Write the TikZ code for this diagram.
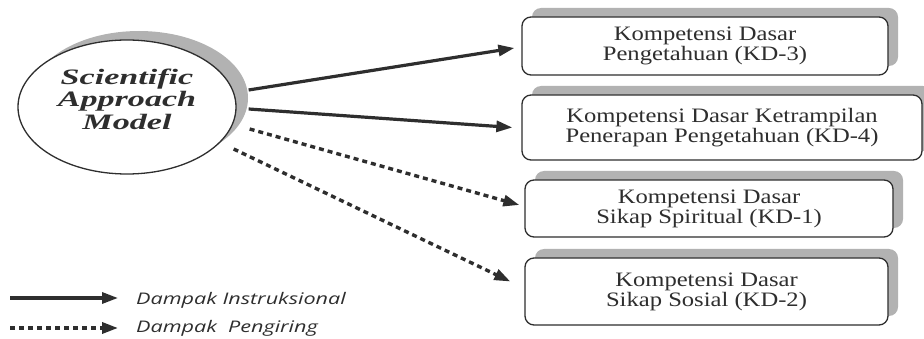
\documentclass[tikz,border=0pt]{standalone}
\usepackage{fontspec}
\setmainfont{Liberation Serif}[FakeStretch=1.2]
\newfontface\samfont{Liberation Serif Bold Italic}[FakeStretch=1.55]
\newfontface\legendfont{Open Sans Italic}[FakeStretch=1.35]
\usetikzlibrary{shapes.geometric,shadows,arrows.meta}
\definecolor{shadowgray}{gray}{0.7}
\definecolor{inkgray}{gray}{0.18}

\begin{document}
\begin{tikzpicture}[x=1pt,y=-1pt]
\tikzstyle{kd-box}=
[
	draw=inkgray, line width=1.3pt, fill=white,
	rounded corners=9pt, align=center, text=inkgray,
	font=\fontsize{20.5}{20}\selectfont,
	general shadow={fill=shadowgray, shadow xshift=10pt, shadow yshift=9pt}
]
\tikzstyle{sam-node}=
[
	ellipse, draw=inkgray, line width=1.3pt, fill=white,
	minimum width=218pt, minimum height=134pt, align=center, text=inkgray,
	font=\samfont\fontsize{22}{22.5}\selectfont,
	general shadow={fill=shadowgray, shadow xshift=12pt, shadow yshift=9pt}
]
\tikzstyle{legend}=[inner sep=0pt, anchor=base west, text=inkgray, font=\legendfont\fontsize{16}{17}\selectfont]
\tikzstyle{instr}=[line width=3.2pt, inkgray, -{Triangle[length=16pt,width=11pt]}]
\tikzstyle{iring}=[line width=3.4pt, inkgray, dash pattern=on 5pt off 4pt, -{Triangle[length=16pt,width=11pt]}]

\useasboundingbox (0,0) rectangle (924,339);

\node[sam-node] (sam) at (127,107) {Scientific\\Approach\\Model\rule[-16pt]{0pt}{1pt}};

\node[kd-box, minimum width=366pt, minimum height=58pt] (kd3) at (705,46)
	{Kompetensi Dasar\\Pengetahuan (KD-3)};
\node[kd-box, minimum width=400pt, minimum height=65pt] (kd4) at (722,127.5)
	{Kompetensi Dasar Ketrampilan\\Penerapan Pengetahuan (KD-4)};
\node[kd-box, minimum width=368pt, minimum height=57pt] (kd1) at (709,208.5)
	{Kompetensi Dasar\\Sikap Spiritual (KD-1)};
\node[kd-box, minimum width=363pt, minimum height=67pt] (kd2) at (706.5,291.5)
	{Kompetensi Dasar\\Sikap Sosial (KD-2)};

\draw[instr] ([xshift=12pt,yshift=17pt]sam.east) -- ([xshift=-7pt,yshift=-2pt]kd3.west);
\draw[instr] ([xshift=12pt,yshift=-2pt]sam.east) -- ([xshift=-9pt]kd4.west);
\draw[iring] ([xshift=13pt,yshift=-22pt]sam.east) -- ([xshift=-5pt,yshift=3.5pt]kd1.west);
\draw[iring] ([xshift=-3pt,yshift=-42pt]sam.east) -- ([xshift=-14pt,yshift=10pt]kd2.west);

% keterangan
\coordinate (li) at (10,298);
\coordinate (lp) at (10,328);
\node[legend] (lit) at (136,304) {Dampak Instruksional};
\node[legend] (lpt) at (136,332) {Dampak~ Pengiring};
\draw[instr] (li) -- (li -| lit.west) [shorten >=18pt];
\draw[iring] (lp) -- (lp -| lpt.west) [shorten >=18pt];
\end{tikzpicture}
\end{document}
